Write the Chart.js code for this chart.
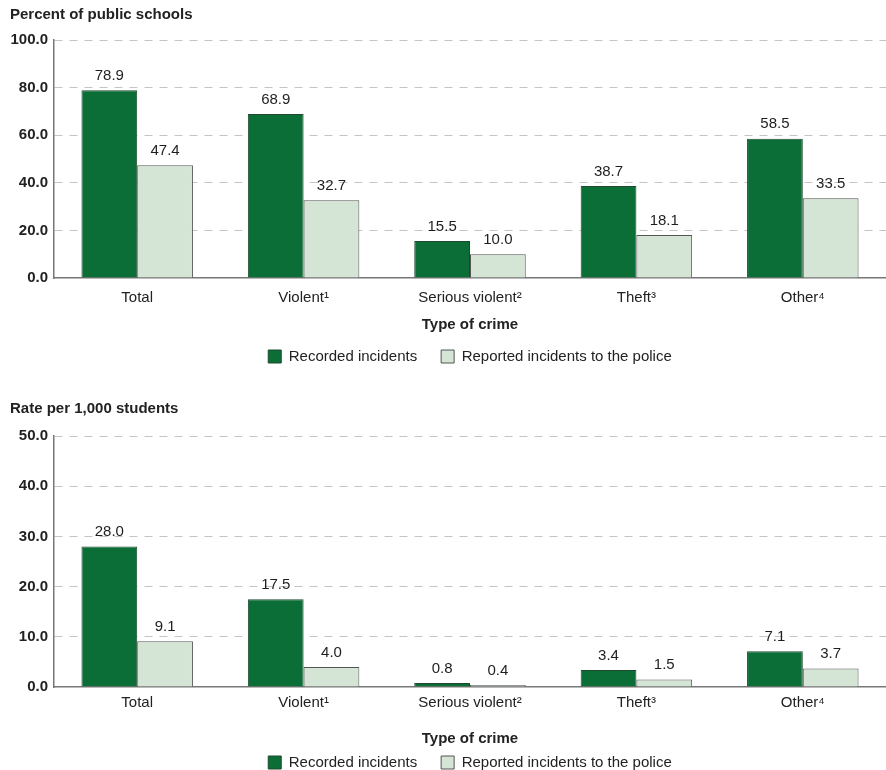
<!DOCTYPE html>
<html>
<head>
<meta charset="utf-8">
<script src="https://cdn.jsdelivr.net/npm/chart.js@4.4.1/dist/chart.umd.min.js"></script>
<style>
  html, body { margin: 0; background: #fff; overflow: hidden; }
  .wrap { position: absolute; left: 0; width: 886px; }
  #top { top: 0; height: 374px; }
  #bottom { top: 394px; height: 386px; }
</style>
</head>
<body>
<div class="wrap" id="top"><canvas id="pctChart"></canvas></div>
<div class="wrap" id="bottom"><canvas id="rateChart"></canvas></div>
<script>
// categories and series
const crimeTypes = ['Total', 'Violent\u00B9', 'Serious violent\u00B2', 'Theft\u00B3', 'Other\u2074'];
const seriesNames = ['Recorded incidents', 'Reported incidents to the police'];

const pctRecorded = [78.9, 68.9, 15.5, 38.7, 58.5];
const pctReported = [47.4, 32.7, 10.0, 18.1, 33.5];

const rateRecorded = [28.0, 17.5, 0.8, 3.4, 7.1];
const rateReported = [9.1, 4.0, 0.4, 1.5, 3.7];

const pctTicks = [0, 20, 40, 60, 80, 100];
const rateTicks = [0, 10, 20, 30, 40, 50];

const darkGreen = '#0b6e37';
const lightGreen = '#d4e4d5';
const fontSize = 15;

Chart.defaults.font.family = '"Liberation Sans", Arial, sans-serif';
Chart.defaults.color = '#222';

// draws the value above each bar
const valueLabels = {
    id: 'valueLabels',
    afterDatasetsDraw(chart) {
        const ctx = chart.ctx;
        ctx.save();
        ctx.font = fontSize + 'px "Liberation Sans", Arial, sans-serif';
        ctx.fillStyle = '#1e1e1e';
        ctx.textAlign = 'center';
        ctx.textBaseline = 'bottom';
        chart.data.datasets.forEach((ds, i) => {
            chart.getDatasetMeta(i).data.forEach((bar, j) => {
                ctx.fillText(ds.data[j].toFixed(1), bar.x, bar.y - 7);
            });
        });
        ctx.restore();
    }
};

// center the legend under the plot area instead of the whole canvas
const legendUnderPlot = {
    id: 'legendUnderPlot',
    afterLayout(chart) {
        const lg = chart.legend;
        if (!lg) return;
        lg.left = chart.chartArea.left;
        lg.right = chart.chartArea.right;
        lg.width = lg.right - lg.left;
    }
};

function makeChart(id, title, recorded, reported, ticks, gaps) {
    const ctx = document.getElementById(id).getContext('2d');
    return new Chart(ctx, {
        type: 'bar',
        data: {
            labels: crimeTypes,
            datasets: [{
                label: seriesNames[0],
                data: recorded,
                backgroundColor: darkGreen,
                borderColor: '#1d4a2e',
                borderWidth: 1
            }, {
                label: seriesNames[1],
                data: reported,
                backgroundColor: lightGreen,
                borderColor: '#555',
                borderWidth: 1
            }]
        },
        options: {
            responsive: true,
            maintainAspectRatio: false,
            animation: false,
            layout: { padding: { left: 10, right: 0, top: 0, bottom: 0 } },
            datasets: {
                bar: { barPercentage: 1.0, categoryPercentage: 0.67 }
            },
            plugins: {
                title: {
                    display: true,
                    text: title,
                    align: 'start',
                    font: { size: fontSize, weight: 'bold' },
                    color: '#222',
                    padding: { top: 6, bottom: gaps.title }
                },
                legend: {
                    position: 'bottom',
                    labels: {
                        boxWidth: 13,
                        boxHeight: 13,
                        padding: 24,
                        font: { size: fontSize },
                        color: '#222'
                    }
                },
                tooltip: { enabled: false }
            },
            scales: {
                x: {
                    grid: { display: false },
                    border: { display: true, color: '#777', width: 1.5 },
                    ticks: {
                        font: { size: fontSize },
                        color: '#222',
                        maxRotation: 0,
                        padding: gaps.tick
                    },
                    title: {
                        display: true,
                        text: 'Type of crime',
                        font: { size: fontSize, weight: 'bold' },
                        color: '#222',
                        padding: { top: gaps.axisTop, bottom: gaps.axisBottom }
                    }
                },
                y: {
                    min: ticks[0],
                    max: ticks[ticks.length - 1],
                    afterFit: (scale) => { scale.width = 44; },
                    afterBuildTicks: (scale) => { scale.ticks = ticks.map(v => ({ value: v })); },
                    grid: {
                        color: (c) => c.tick && c.tick.value === 0 ? 'rgba(0,0,0,0)' : '#c9c2c2',
                        drawTicks: false
                    },
                    border: { display: true, color: '#777', width: 1.5, dash: [8, 7] },
                    ticks: {
                        font: { size: fontSize, weight: 'bold' },
                        color: '#222',
                        padding: 6,
                        callback: (v) => v.toFixed(1)
                    }
                }
            }
        },
        plugins: [valueLabels, legendUnderPlot]
    });
}

makeChart('pctChart', 'Percent of public schools', pctRecorded, pctReported, pctTicks,
    { title: 16, tick: 3, axisTop: 6, axisBottom: -9 });
makeChart('rateChart', 'Rate per 1,000 students', rateRecorded, rateReported, rateTicks,
    { title: 18, tick: -1, axisTop: 19, axisBottom: -17 });
</script>
</body>
</html>
